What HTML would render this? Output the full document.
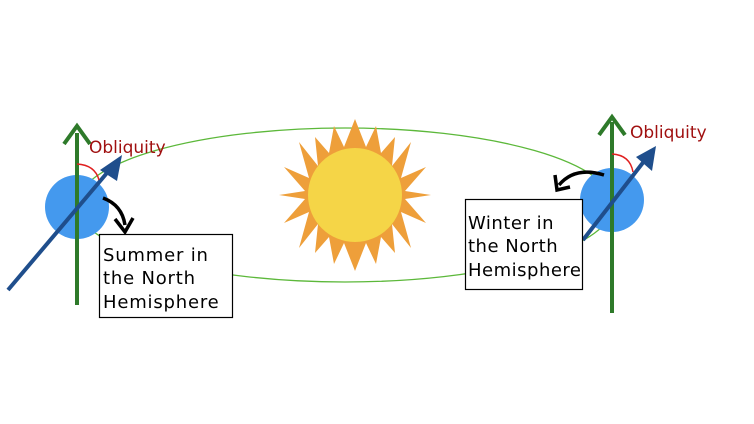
<!DOCTYPE html>
<html><head><style>body{margin:0;background:#fff}svg{display:block}</style></head><body>
<svg width="754" height="424" viewBox="0 0 754 424" xmlns="http://www.w3.org/2000/svg">
<ellipse cx="345" cy="205" rx="268" ry="77" fill="none" stroke="#5cb83a" stroke-width="1.3"/>
<g transform="translate(355,195)">
<polygon fill="#ee9f3a" points="
0,-76 11,-48 21,-69 26,-42 40,-58 37,-29 56,-53 46,-17 71,-28 50,-4 76,0 50,4 71,28 46,17 56,53 37,29 40,58 26,42 21,69 11,48 0,76 -11,48 -21,69 -26,42 -40,58 -37,29 -56,53 -46,17 -71,28 -50,4 -76,0 -50,-4 -71,-28 -46,-17 -56,-53 -37,-29 -40,-58 -26,-42 -21,-69 -11,-48"/>
<circle r="47" fill="#f5d547"/>
</g>
<!-- left earth -->
<circle cx="77" cy="207" r="32" fill="#4499ee"/>
<line x1="77" y1="133" x2="77" y2="305" stroke="#2e7a2a" stroke-width="4"/>
<polyline points="64,144 77,126 90,144" fill="none" stroke="#2e7a2a" stroke-width="4"/>
<line x1="8" y1="290" x2="112" y2="167" stroke="#1f4e8c" stroke-width="4"/>
<polygon points="122,155 100,170 117,181" fill="#1f4e8c"/>
<path d="M77,164 Q95,165 99,180" fill="none" stroke="#e02020" stroke-width="1.5"/>
<text x="89" y="153" font-family="'DejaVu Sans',sans-serif" font-size="17" fill="#a01010">Obliquity</text>
<path d="M103,198 Q122,205 125,225" fill="none" stroke="#000" stroke-width="3.5"/>
<polyline points="115,219 125,232 133,218" fill="none" stroke="#000" stroke-width="3.5"/>
<rect x="99.5" y="234.5" width="133" height="83" fill="#fff" stroke="#000" stroke-width="1.2"/>
<g font-family="'DejaVu Sans',sans-serif" font-size="18" letter-spacing="0.8" fill="#000">
<text x="103" y="261">Summer in</text><text x="103" y="284">the North</text><text x="103" y="308">Hemisphere</text>
</g>
<!-- right earth -->
<circle cx="612" cy="200" r="32" fill="#4499ee"/>
<line x1="612" y1="122" x2="612" y2="313" stroke="#2e7a2a" stroke-width="4"/>
<polyline points="599,135 612,117 625,135" fill="none" stroke="#2e7a2a" stroke-width="4"/>
<line x1="583" y1="240" x2="645" y2="160" stroke="#1f4e8c" stroke-width="4"/>
<polygon points="656,146 636,157 652,171" fill="#1f4e8c"/>
<path d="M612,154 Q630,155 633,172" fill="none" stroke="#e02020" stroke-width="1.5"/>
<text x="630" y="138" font-family="'DejaVu Sans',sans-serif" font-size="17" fill="#a01010">Obliquity</text>
<path d="M604,175 Q575,166 559,185" fill="none" stroke="#000" stroke-width="3.5"/>
<polyline points="555,175 557,190 570,187" fill="none" stroke="#000" stroke-width="3.5"/>
<rect x="465.5" y="199.5" width="117" height="90" fill="#fff" stroke="#000" stroke-width="1.2"/>
<g font-family="'DejaVu Sans',sans-serif" font-size="18" letter-spacing="0.5" fill="#000">
<text x="468" y="229">Winter in</text><text x="468" y="252">the North</text><text x="468" y="276">Hemisphere</text>
</g>
</svg>
</body></html>
